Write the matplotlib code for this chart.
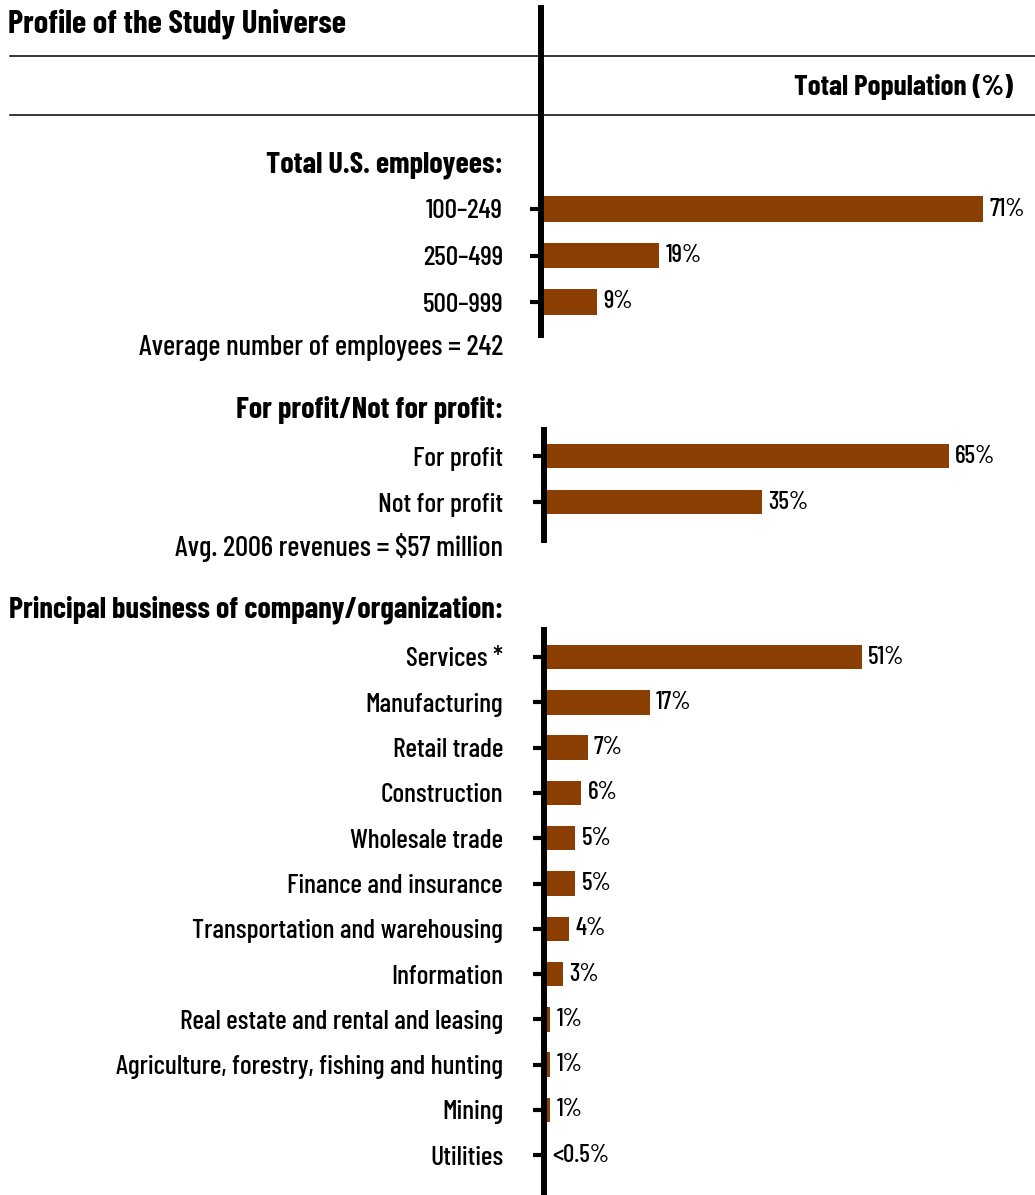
import matplotlib.pyplot as plt
from matplotlib.lines import Line2D

plt.rcParams['font.family'] = ['Barlow Condensed', 'DejaVu Sans']
plt.rcParams['font.weight'] = 500

# Sections of the profile
emp_labels = ['100–249', '250–499', '500–999']
emp_pct = [71, 19, 9]

profit_labels = ['For profit', 'Not for profit']
profit_pct = [65, 35]

business_labels = ['Services *', 'Manufacturing', 'Retail trade', 'Construction',
                   'Wholesale trade', 'Finance and insurance',
                   'Transportation and warehousing', 'Information',
                   'Real estate and rental and leasing',
                   'Agriculture, forestry, fishing and hunting', 'Mining', 'Utilities']
business_pct = [51, 17, 7, 6, 5, 5, 4, 3, 1, 1, 1, 0.4]

W, H = 1035, 1195
BAR = '#8B3E02'
PX_PER_PCT = 6.23
LABEL_SIZE = 19.8
NOTE_SIZE = 20.8
HEAD_SIZE = 21.8
VALUE_SIZE = 18
LABEL_RIGHT = 503

fig = plt.figure(figsize=(W / 100, H / 100), dpi=100)


def pct_label(v):
    return '<0.5%' if v < 0.5 else f'{v:g}%'


def section(labels, values, x0, top, bottom, first_row, step):
    # axes in pixel terms: spine at x0, rows start at first_row spaced by step
    ax = fig.add_axes([x0 / W, 1 - bottom / H, (W - x0) / W, (bottom - top) / H])
    ax.set_xlim(0, (W - x0) / PX_PER_PCT)
    ax.set_ylim((bottom - first_row) / step, (top - first_row) / step)
    pos = list(range(len(values)))
    ax.barh(pos, values, height=0.54, color=BAR, zorder=1)
    for p, v in zip(pos, values):
        ax.annotate(pct_label(v), (v, p), xytext=(4.5, 0), textcoords='offset points',
                    ha='left', va='center', fontsize=VALUE_SIZE)
    ax.set_yticks(pos)
    ax.set_yticklabels(labels, fontsize=LABEL_SIZE)
    tick_len = 8
    pad = (x0 - tick_len * 1.389 - LABEL_RIGHT) / 1.389
    ax.tick_params(axis='y', direction='out', length=tick_len, width=3, pad=pad)
    ax.set_xticks([])
    for s in ['top', 'right', 'bottom']:
        ax.spines[s].set_visible(False)
    ax.spines['left'].set_linewidth(4.3)
    ax.patch.set_visible(False)
    return ax


section(emp_labels, emp_pct, 541, 8, 335, 209, 46.5)
section(profit_labels, profit_pct, 544, 430, 540, 456, 46)
section(business_labels, business_pct, 544, 630, 1195, 657, 45.3)

# header
fig.text(8 / W, 1 - 24 / H, 'Profile of the Study Universe', fontsize=23.5,
         fontweight='bold', ha='left', va='center')
for yy in (56, 115):
    fig.lines.append(Line2D([10 / W, 1], [1 - yy / H, 1 - yy / H], color='black',
                            linewidth=1.1, transform=fig.transFigure))
fig.text(1013 / W, 1 - 87 / H, 'Total Population (%)', fontsize=21,
         fontweight='bold', ha='right', va='center')

# section headings and notes
xr = LABEL_RIGHT / W
fig.text(xr, 1 - 165 / H, 'Total U.S. employees:', fontsize=HEAD_SIZE,
         fontweight='bold', ha='right', va='center')
fig.text(xr, 1 - 348 / H, 'Average number of employees = 242', fontsize=NOTE_SIZE,
         ha='right', va='center')
fig.text(xr, 1 - 410 / H, 'For profit/Not for profit:', fontsize=HEAD_SIZE,
         fontweight='bold', ha='right', va='center')
fig.text(xr, 1 - 548 / H, 'Avg. 2006 revenues = $57 million', fontsize=NOTE_SIZE,
         ha='right', va='center')
fig.text(xr, 1 - 610 / H, 'Principal business of company/organization:',
         fontsize=HEAD_SIZE, fontweight='bold', ha='right', va='center')

fig.savefig('out.png', dpi=100)
